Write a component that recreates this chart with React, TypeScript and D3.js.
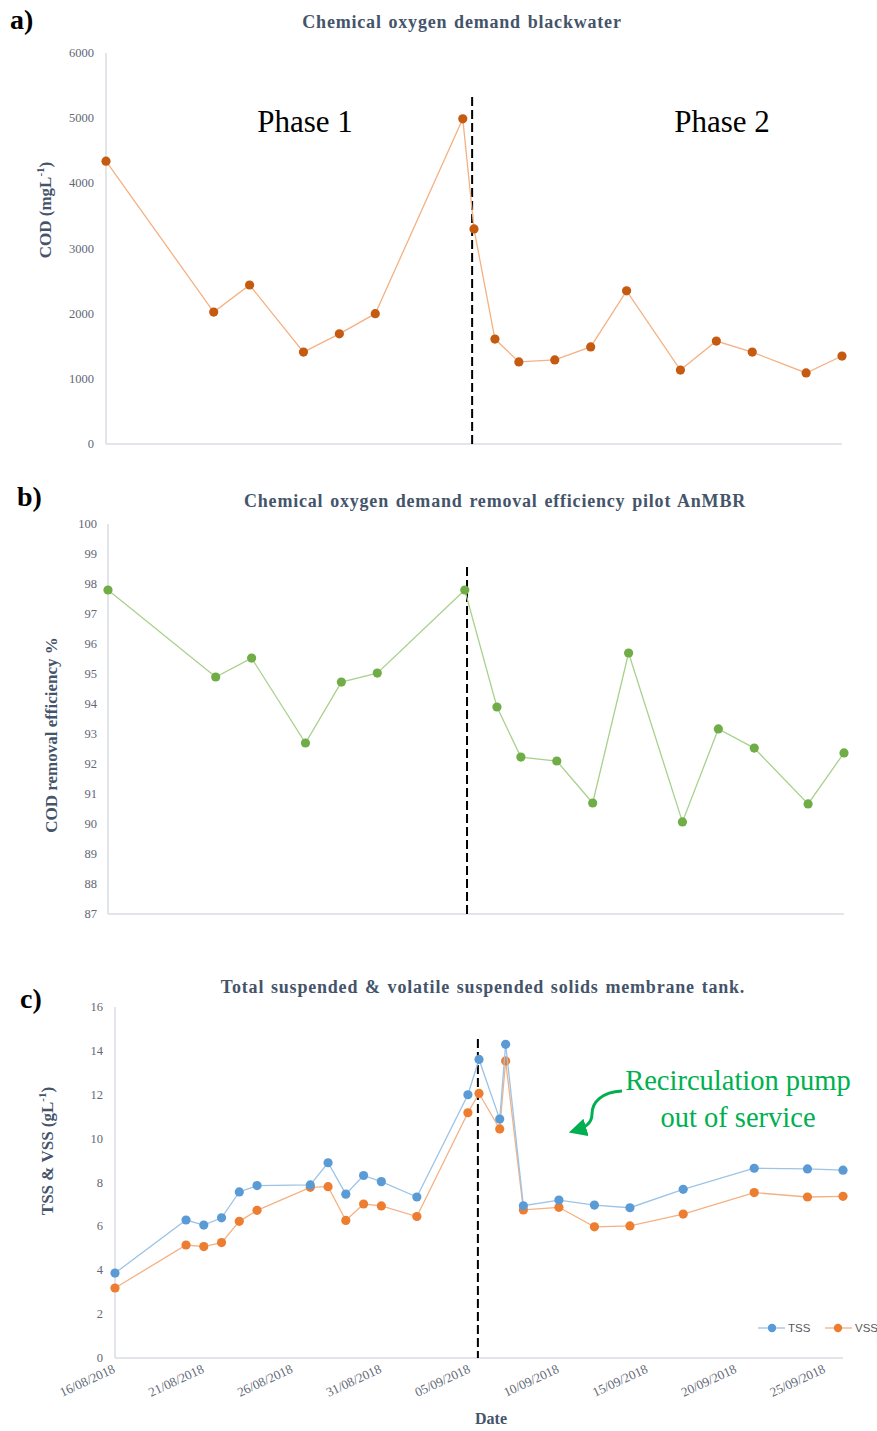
import React from "react";
import * as d3 from "d3";

// ---------- DATA ----------
const codDates = [
  "2018-08-16 00:00", "2018-08-22 00:00", "2018-08-24 00:00", "2018-08-27 00:00",
  "2018-08-29 00:00", "2018-08-31 00:00", "2018-09-04 21:00", "2018-09-05 12:00",
  "2018-09-06 16:00", "2018-09-08 00:00", "2018-09-10 00:00", "2018-09-12 00:00",
  "2018-09-14 00:00", "2018-09-17 00:00", "2018-09-19 00:00", "2018-09-21 00:00",
  "2018-09-24 00:00", "2018-09-26 00:00",
];
const codValues = [4340, 2025, 2440, 1410, 1690, 2000, 4990, 3300, 1610, 1260, 1290, 1490, 2350, 1135, 1580, 1410, 1090, 1350];

const effDates = [
  "2018-08-16 00:00", "2018-08-22 00:00", "2018-08-24 00:00", "2018-08-27 00:00",
  "2018-08-29 00:00", "2018-08-31 00:00", "2018-09-04 21:00", "2018-09-06 16:00",
  "2018-09-08 00:00", "2018-09-10 00:00", "2018-09-12 00:00", "2018-09-14 00:00",
  "2018-09-17 00:00", "2018-09-19 00:00", "2018-09-21 00:00", "2018-09-24 00:00",
  "2018-09-26 00:00",
];
const effValues = [97.8, 94.9, 95.53, 92.7, 94.73, 95.03, 97.8, 93.9, 92.23, 92.1, 90.7, 95.7, 90.07, 93.17, 92.53, 90.67, 92.37];

const ssDates = [
  "2018-08-16 00:00", "2018-08-20 00:00", "2018-08-21 00:00", "2018-08-22 00:00",
  "2018-08-23 00:00", "2018-08-24 00:00", "2018-08-27 00:00", "2018-08-28 00:00",
  "2018-08-29 00:00", "2018-08-30 00:00", "2018-08-31 00:00", "2018-09-02 00:00",
  "2018-09-04 21:00", "2018-09-05 12:00", "2018-09-06 16:00", "2018-09-07 00:00",
  "2018-09-08 00:00", "2018-09-10 00:00", "2018-09-12 00:00", "2018-09-14 00:00",
  "2018-09-17 00:00", "2018-09-21 00:00", "2018-09-24 00:00", "2018-09-26 00:00",
];
const tssValues = [3.87, 6.29, 6.06, 6.39, 7.57, 7.86, 7.89, 8.9, 7.47, 8.32, 8.04, 7.34, 12.0, 13.61, 10.89, 14.3, 6.94, 7.2, 6.97, 6.85, 7.69, 8.65, 8.62, 8.56];
const vssValues = [3.19, 5.15, 5.08, 5.26, 6.23, 6.73, 7.78, 7.81, 6.27, 7.02, 6.93, 6.45, 11.18, 12.06, 10.44, 13.54, 6.75, 6.87, 5.98, 6.02, 6.56, 7.54, 7.34, 7.37];

const xDomainDates = ["2018-08-16 00:00", "2018-09-26 00:00"];
const xTickDates = ["2018-08-16 00:00", "2018-08-21 00:00", "2018-08-26 00:00", "2018-08-31 00:00", "2018-09-05 00:00", "2018-09-10 00:00", "2018-09-15 00:00", "2018-09-20 00:00", "2018-09-25 00:00"];
const phaseBoundaryA = "2018-09-05 09:30";
const phaseBoundaryB = "2018-09-05 00:00";
const phaseBoundaryC = "2018-09-05 10:30";

const codTicks = [0, 1000, 2000, 3000, 4000, 5000, 6000];
const effTicks = [87, 88, 89, 90, 91, 92, 93, 94, 95, 96, 97, 98, 99, 100];
const ssTicks = [0, 2, 4, 6, 8, 10, 12, 14, 16];

// ---------- STYLE ----------
const parse = d3.timeParse("%Y-%m-%d %H:%M");
const fmt = d3.timeFormat("%d/%m/%Y");
const SERIF = "'Liberation Serif', 'Times New Roman', serif";
const SANS = "'Liberation Sans', Arial, sans-serif";
const TITLE_COL = "#44546A";
const TICK_COL = "#5f6876";
const AXIS_COL = "#d9dee5";

function Series({ dates, values, x, y, line, dot }) {
  const pts = dates.map((d, i) => [x(parse(d)), y(values[i])]);
  const path = d3.line()(pts);
  return (
    <g>
      <path d={path} fill="none" stroke={line} strokeWidth={1.3} />
      {pts.map((p, i) => (
        <circle key={i} cx={p[0]} cy={p[1]} r={4.6} fill={dot} />
      ))}
    </g>
  );
}

function YAxis({ y, ticks, labelX }) {
  return (
    <g>
      {ticks.map((t) => (
        <text key={t} x={labelX} y={y(t) + 4} textAnchor="end" fontFamily={SERIF} fontSize={12.5} fill={TICK_COL}>
          {t}
        </text>
      ))}
    </g>
  );
}

function Frame({ x, y }) {
  const [x0, x1] = x.range();
  const [yb, yt] = y.range();
  return (
    <g>
      <line x1={x0} x2={x0} y1={yt} y2={yb} stroke={AXIS_COL} strokeWidth={1.5} />
      <line x1={x0} x2={x1} y1={yb} y2={yb} stroke={AXIS_COL} strokeWidth={1.5} />
    </g>
  );
}

const titleProps = {
  textAnchor: "middle",
  fontFamily: SERIF,
  fontWeight: "bold",
  fontSize: 18,
  letterSpacing: 0.8,
  wordSpacing: 1.5,
  fill: TITLE_COL,
};
const ylabProps = {
  textAnchor: "middle",
  fontFamily: SERIF,
  fontWeight: "bold",
  fontSize: 17,
  fill: TITLE_COL,
};

export default function App() {
  const dom = xDomainDates.map((d) => parse(d));

  const xa = d3.scaleTime().domain(dom).range([106, 842]);
  const ya = d3.scaleLinear().domain([0, 6000]).range([444, 53]);
  const xb = d3.scaleTime().domain(dom).range([108, 844]);
  const yb = d3.scaleLinear().domain([87, 100]).range([914, 524]);
  const xc = d3.scaleTime().domain(dom).range([115, 843]);
  const yc = d3.scaleLinear().domain([0, 16]).range([1358, 1007]);

  const bA = xa(parse(phaseBoundaryA));
  const bB = xb(parse(phaseBoundaryB));
  const bC = xc(parse(phaseBoundaryC));

  return (
    <svg width={877} height={1431} style={{ position: "absolute", left: 0, top: 0, background: "#fff" }}>
      <defs>
        <marker id="arrowG" viewBox="0 0 10 10" refX="7" refY="5" markerWidth="6" markerHeight="6" orient="auto-start-reverse">
          <path d="M0,0 L10,5 L0,10 z" fill="#00B050" />
        </marker>
      </defs>

      {/* ---------------- Panel a ---------------- */}
      <text x={10} y={29} fontFamily={SERIF} fontWeight="bold" fontSize={28} fill="#000">a)</text>
      <text x={462} y={28} {...titleProps}>Chemical oxygen demand blackwater</text>
      <Frame x={xa} y={ya} />
      <YAxis y={ya} ticks={codTicks} labelX={94} />
      <text transform={`translate(51,210) rotate(-90)`} {...ylabProps}>
        COD (mgL<tspan dy={-7} fontSize={11}>-1</tspan><tspan dy={7}>)</tspan>
      </text>
      <line x1={bA} x2={bA} y1={97} y2={445} stroke="#000" strokeWidth={2} strokeDasharray="9,4" />
      <Series dates={codDates} values={codValues} x={xa} y={ya} line="#F4B183" dot="#C55A11" />
      <text x={305} y={132} textAnchor="middle" fontFamily={SERIF} fontSize={31} fill="#000">Phase 1</text>
      <text x={722} y={132} textAnchor="middle" fontFamily={SERIF} fontSize={31} fill="#000">Phase 2</text>

      {/* ---------------- Panel b ---------------- */}
      <text x={17} y={506} fontFamily={SERIF} fontWeight="bold" fontSize={28} fill="#000">b)</text>
      <text x={495} y={507} {...titleProps}>Chemical oxygen demand removal efficiency pilot AnMBR</text>
      <Frame x={xb} y={yb} />
      <YAxis y={yb} ticks={effTicks} labelX={97} />
      <text transform={`translate(57,735) rotate(-90)`} {...ylabProps}>COD removal efficiency %</text>
      <line x1={bB} x2={bB} y1={567} y2={915} stroke="#000" strokeWidth={2} strokeDasharray="9,4" />
      <Series dates={effDates} values={effValues} x={xb} y={yb} line="#A9D18E" dot="#70AD47" />

      {/* ---------------- Panel c ---------------- */}
      <text x={20} y={1008} fontFamily={SERIF} fontWeight="bold" fontSize={28} fill="#000">c)</text>
      <text x={483} y={993} {...titleProps}>Total suspended &amp; volatile suspended solids membrane tank.</text>
      <Frame x={xc} y={yc} />
      <YAxis y={yc} ticks={ssTicks} labelX={103} />
      <text transform={`translate(53,1151) rotate(-90)`} {...ylabProps}>
        TSS &amp; VSS (gL<tspan dy={-7} fontSize={11}>-1</tspan><tspan dy={7}>)</tspan>
      </text>
      {xTickDates.map((d) => {
        const px = xc(parse(d));
        return (
          <text key={d} transform={`translate(${px + 1},${1372}) rotate(-25)`} textAnchor="end" fontFamily={SERIF} fontSize={13} fill={TICK_COL}>
            {fmt(parse(d))}
          </text>
        );
      })}
      <text x={491} y={1424} textAnchor="middle" fontFamily={SERIF} fontWeight="bold" fontSize={16} fill={TITLE_COL}>Date</text>
      <line x1={bC} x2={bC} y1={1039} y2={1358} stroke="#000" strokeWidth={2} strokeDasharray="9,4" />
      <Series dates={ssDates} values={vssValues} x={xc} y={yc} line="#F4B183" dot="#ED7D31" />
      <Series dates={ssDates} values={tssValues} x={xc} y={yc} line="#9DC3E6" dot="#5B9BD5" />

      {/* annotation */}
      <text x={738} y={1090} textAnchor="middle" fontFamily={SERIF} fontSize={28.5} fill="#00B050">Recirculation pump</text>
      <text x={738} y={1127} textAnchor="middle" fontFamily={SERIF} fontSize={28.5} fill="#00B050">out of service</text>
      <path d="M622,1091 C602,1092 592,1102 592,1114 C592,1124 584,1128 574,1131" fill="none" stroke="#00B050" strokeWidth={3} markerEnd="url(#arrowG)" />

      {/* legend */}
      <line x1={758} x2={785} y1={1328} y2={1328} stroke="#9DC3E6" strokeWidth={1.3} />
      <circle cx={772} cy={1328} r={4.2} fill="#5B9BD5" />
      <text x={788} y={1332} fontFamily={SANS} fontSize={11.5} fill="#595959">TSS</text>
      <line x1={825} x2={852} y1={1328} y2={1328} stroke="#F4B183" strokeWidth={1.3} />
      <circle cx={838} cy={1328} r={4.2} fill="#ED7D31" />
      <text x={855} y={1332} fontFamily={SANS} fontSize={11.5} fill="#595959">VSS</text>
    </svg>
  );
}
